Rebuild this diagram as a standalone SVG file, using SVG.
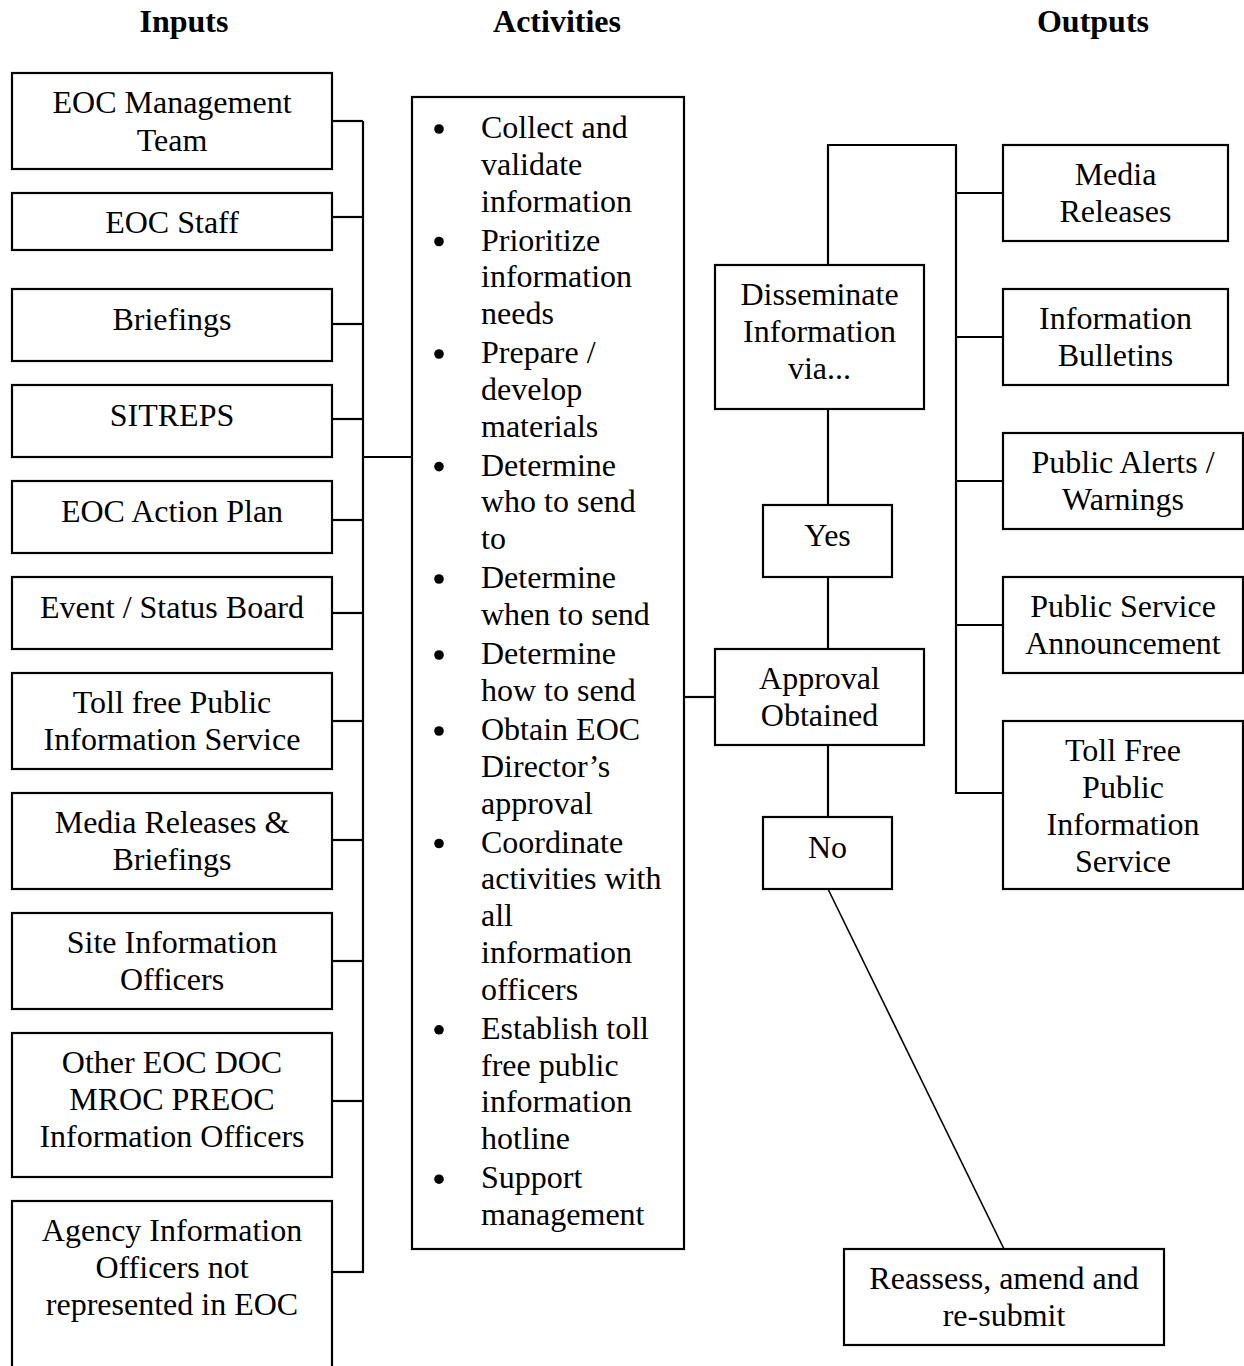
<svg xmlns="http://www.w3.org/2000/svg" width="1244" height="1366" viewBox="0 0 1244 1366">
<style>
text{font-family:"Liberation Serif","Times New Roman",serif;font-size:32px;fill:#000}
.h{font-weight:bold}
.c{text-anchor:middle}
rect{fill:#fff;stroke:#000;stroke-width:2.2}
.cn line,.cn polyline{stroke:#000;stroke-width:2.2;fill:none}
.dot{fill:#000}
</style>
<rect x="0" y="0" width="1244" height="1366" style="stroke:none"/>
<g id="headings">
<text class="h c" x="184" y="32">Inputs</text>
<text class="h c" x="557" y="32">Activities</text>
<text class="h c" x="1093" y="32">Outputs</text>
</g>
<g class="cn" id="connectors">
<line x1="363" y1="121" x2="363" y2="1273"/>
<line x1="332" y1="121" x2="363" y2="121"/>
<line x1="332" y1="217" x2="363" y2="217"/>
<line x1="332" y1="324" x2="363" y2="324"/>
<line x1="332" y1="419" x2="363" y2="419"/>
<line x1="332" y1="520" x2="363" y2="520"/>
<line x1="332" y1="613" x2="363" y2="613"/>
<line x1="332" y1="721" x2="363" y2="721"/>
<line x1="332" y1="840" x2="363" y2="840"/>
<line x1="332" y1="961" x2="363" y2="961"/>
<line x1="332" y1="1101" x2="363" y2="1101"/>
<line x1="332" y1="1272" x2="363" y2="1272"/>
<line x1="363" y1="457" x2="412" y2="457"/>
<line x1="684" y1="697" x2="715" y2="697"/>
<polyline points="828,265 828,145 956,145 956,793 1003,793"/>
<line x1="956" y1="193" x2="1003" y2="193"/>
<line x1="956" y1="337" x2="1003" y2="337"/>
<line x1="956" y1="481" x2="1003" y2="481"/>
<line x1="956" y1="625" x2="1003" y2="625"/>
<line x1="828" y1="409" x2="828" y2="505"/>
<line x1="828" y1="577" x2="828" y2="649"/>
<line x1="828" y1="745" x2="828" y2="817"/>
<line x1="828" y1="889" x2="1004" y2="1249" style="stroke-width:1.6"/>
</g>
<g id="in1"><rect x="12" y="73" width="320" height="96"/><text class="c" x="172" y="113">EOC Management</text><text class="c" x="172" y="150.5">Team</text></g>
<g id="in2"><rect x="12" y="193" width="320" height="57"/><text class="c" x="172" y="233">EOC Staff</text></g>
<g id="in3"><rect x="12" y="289" width="320" height="72"/><text class="c" x="172" y="330">Briefings</text></g>
<g id="in4"><rect x="12" y="385" width="320" height="72"/><text class="c" x="172" y="426">SITREPS</text></g>
<g id="in5"><rect x="12" y="481" width="320" height="72"/><text class="c" x="172" y="522">EOC Action Plan</text></g>
<g id="in6"><rect x="12" y="577" width="320" height="72"/><text class="c" x="172" y="618">Event / Status Board</text></g>
<g id="in7"><rect x="12" y="673" width="320" height="96"/><text class="c" x="172" y="712.5">Toll free Public</text><text class="c" x="172" y="750">Information Service</text></g>
<g id="in8"><rect x="12" y="793" width="320" height="96"/><text class="c" x="172" y="832.5">Media Releases &amp;</text><text class="c" x="172" y="870">Briefings</text></g>
<g id="in9"><rect x="12" y="913" width="320" height="96"/><text class="c" x="172" y="952.5">Site Information</text><text class="c" x="172" y="990">Officers</text></g>
<g id="in10"><rect x="12" y="1033" width="320" height="144"/><text class="c" x="172" y="1073">Other EOC DOC</text><text class="c" x="172" y="1110">MROC PREOC</text><text class="c" x="172" y="1147">Information Officers</text></g>
<g id="in11"><rect x="12" y="1201" width="320" height="200"/><text class="c" x="172" y="1240.5">Agency Information</text><text class="c" x="172" y="1277.5">Officers not</text><text class="c" x="172" y="1314.5">represented in EOC</text></g>
<g id="activities">
<rect x="412" y="97" width="272" height="1152"/>
<circle class="dot" cx="439" cy="129" r="4.8"/>
<text x="481" y="138">Collect and</text><text x="481" y="174.75">validate</text><text x="481" y="211.5">information</text>
<circle class="dot" cx="439" cy="241.5" r="4.8"/>
<text x="481" y="250.5">Prioritize</text><text x="481" y="287.3">information</text><text x="481" y="324">needs</text>
<circle class="dot" cx="439" cy="354" r="4.8"/>
<text x="481" y="363">Prepare /</text><text x="481" y="399.8">develop</text><text x="481" y="436.5">materials</text>
<circle class="dot" cx="439" cy="466.6" r="4.8"/>
<text x="481" y="475.6">Determine</text><text x="481" y="512.3">who to send</text><text x="481" y="549">to</text>
<circle class="dot" cx="439" cy="579" r="4.8"/>
<text x="481" y="588">Determine</text><text x="481" y="625">when to send</text>
<circle class="dot" cx="439" cy="655" r="4.8"/>
<text x="481" y="664">Determine</text><text x="481" y="701">how to send</text>
<circle class="dot" cx="439" cy="731" r="4.8"/>
<text x="481" y="740">Obtain EOC</text><text x="481" y="777">Director’s</text><text x="481" y="813.5">approval</text>
<circle class="dot" cx="439" cy="843.5" r="4.8"/>
<text x="481" y="852.5">Coordinate</text><text x="481" y="889.3">activities with</text><text x="481" y="926">all</text><text x="481" y="962.8">information</text><text x="481" y="999.5">officers</text>
<circle class="dot" cx="439" cy="1029.8" r="4.8"/>
<text x="481" y="1038.8">Establish toll</text><text x="481" y="1075.5">free public</text><text x="481" y="1112.3">information</text><text x="481" y="1149">hotline</text>
<circle class="dot" cx="439" cy="1179.2" r="4.8"/>
<text x="481" y="1188.2">Support</text><text x="481" y="1225">management</text>
</g>
<g id="disseminate"><rect x="715" y="265" width="209" height="144"/><text class="c" x="819.5" y="305">Disseminate</text><text class="c" x="819.5" y="342">Information</text><text class="c" x="819.5" y="379">via...</text></g>
<g id="yes"><rect x="763" y="505" width="129" height="72"/><text class="c" x="827.5" y="546">Yes</text></g>
<g id="approval"><rect x="715" y="649" width="209" height="96"/><text class="c" x="819.5" y="689">Approval</text><text class="c" x="819.5" y="726">Obtained</text></g>
<g id="no"><rect x="763" y="817" width="129" height="72"/><text class="c" x="827.5" y="858">No</text></g>
<g id="reassess"><rect x="844" y="1249" width="320" height="96"/><text class="c" x="1004" y="1289">Reassess, amend and</text><text class="c" x="1004" y="1326">re-submit</text></g>
<g id="out1"><rect x="1003" y="145" width="225" height="96"/><text class="c" x="1115.5" y="185">Media</text><text class="c" x="1115.5" y="222">Releases</text></g>
<g id="out2"><rect x="1003" y="289" width="225" height="96"/><text class="c" x="1115.5" y="329">Information</text><text class="c" x="1115.5" y="366">Bulletins</text></g>
<g id="out3"><rect x="1003" y="433" width="240" height="96"/><text class="c" x="1123" y="473">Public Alerts /</text><text class="c" x="1123" y="510">Warnings</text></g>
<g id="out4"><rect x="1003" y="577" width="240" height="96"/><text class="c" x="1123" y="617">Public Service</text><text class="c" x="1123" y="654">Announcement</text></g>
<g id="out5"><rect x="1003" y="721" width="240" height="168"/><text class="c" x="1123" y="761">Toll Free</text><text class="c" x="1123" y="798">Public</text><text class="c" x="1123" y="835">Information</text><text class="c" x="1123" y="872">Service</text></g>
</svg>
